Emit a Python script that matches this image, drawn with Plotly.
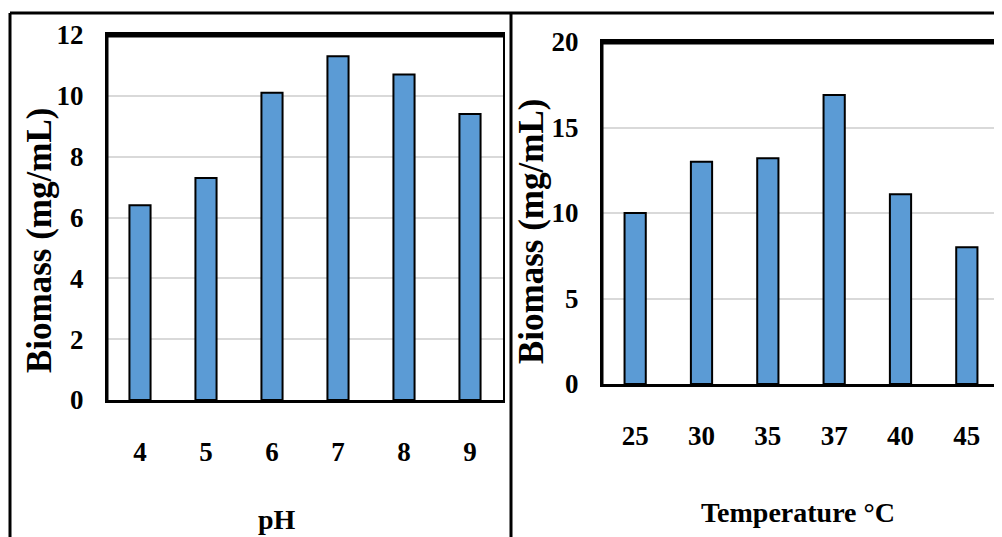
import plotly.graph_objects as go

# ---- data ----
ph_labels = ["4", "5", "6", "7", "8", "9"]
ph_biomass = [6.4, 7.3, 10.1, 11.3, 10.7, 9.4]
temp_labels = ["25", "30", "35", "37", "40", "45"]
temp_biomass = [10.0, 13.0, 13.2, 16.9, 11.1, 8.0]
ph_yticks = [0, 2, 4, 6, 8, 10, 12]
temp_yticks = [0, 5, 10, 15, 20]
y_title = "Biomass (mg/mL)"
x_title_left = "pH"
x_title_right = "Temperature °C"

W, H = 1002, 537
OX, OY = 8, 8  # page body margin compensation
FONT = "Liberation Serif, Times New Roman, serif"
BAR = "#5b9bd5"

def px(x):
    return (x - OX) / W

def py(y):
    return 1 - (y - OY) / H

fig = go.Figure()
fig.add_trace(go.Bar(x=ph_labels, y=ph_biomass, width=0.32,
                     marker=dict(color=BAR, line=dict(color="black", width=2)),
                     xaxis="x", yaxis="y", showlegend=False))
fig.add_trace(go.Bar(x=temp_labels, y=temp_biomass, width=0.32,
                     marker=dict(color=BAR, line=dict(color="black", width=2)),
                     xaxis="x2", yaxis="y2", showlegend=False))

tickfont = dict(family=FONT, size=27, color="black", weight="bold")

common_x = dict(type="category", showline=True, linecolor="black", linewidth=3,
                mirror=True, showgrid=False, ticks="", tickfont=tickfont,
                ticklabelstandoff=26, fixedrange=True, automargin=False)
common_y = dict(showline=True, linecolor="black", linewidth=2, mirror=True,
                showgrid=True, gridcolor="#d9d9d9", gridwidth=2, ticks="",
                tickfont=tickfont, zeroline=False, ticklabelstandoff=16,
                fixedrange=True, automargin=False)

fig.update_layout(
    width=W, height=H,
    margin=dict(l=0, r=0, t=0, b=0, pad=0, autoexpand=False),
    paper_bgcolor="white", plot_bgcolor="white",
    xaxis=dict(domain=[px(107), px(503)], anchor="y", **common_x),
    yaxis=dict(domain=[py(400), py(35)], anchor="x", range=[0, 12],
               tickvals=ph_yticks, **common_y),
    xaxis2=dict(domain=[px(602), px(1000)], anchor="y2", **common_x),
    yaxis2=dict(domain=[py(384), py(42)], anchor="x2", range=[0, 20],
                tickvals=temp_yticks, **common_y),
)

title_font = dict(family=FONT, size=28, color="black", weight="bold")
ytitle_font = dict(family=FONT, size=35, color="black", weight="bold")

ann = dict(xref="paper", yref="paper", showarrow=False,
           xanchor="center", yanchor="middle")
fig.add_annotation(text=y_title, textangle=-90, x=px(40), y=py(241),
                   font=ytitle_font, **ann)
fig.add_annotation(text=y_title, textangle=-90, x=px(531), y=py(232),
                   font=ytitle_font, **ann)
fig.add_annotation(text=x_title_left, x=px(277), y=py(519),
                   font=title_font, **ann)
fig.add_annotation(text=x_title_right, x=px(798), y=py(512),
                   font=title_font, **ann)

line = dict(color="black", width=3)
shapes = [
    # outer panel frames
    dict(type="line", xref="paper", yref="paper", x0=px(10), x1=1.0, y0=py(13), y1=py(13), line=line),
    dict(type="line", xref="paper", yref="paper", x0=px(10), x1=px(10), y0=py(13), y1=0, line=line),
    dict(type="line", xref="paper", yref="paper", x0=px(511), x1=px(511), y0=py(13), y1=0, line=line),
    # thick top borders of plot areas
    dict(type="line", xref="paper", yref="paper", x0=px(106), x1=px(504), y0=py(35), y1=py(35),
         line=dict(color="black", width=5)),
    dict(type="line", xref="paper", yref="paper", x0=px(601), x1=px(1001), y0=py(42), y1=py(42),
         line=dict(color="black", width=5)),
    # thicker left axes
    dict(type="line", xref="paper", yref="paper", x0=px(107), x1=px(107), y0=py(400), y1=py(35),
         line=dict(color="black", width=3)),
    dict(type="line", xref="paper", yref="paper", x0=px(602), x1=px(602), y0=py(384), y1=py(42),
         line=dict(color="black", width=3)),
]
fig.update_layout(shapes=shapes)

fig.write_html("out.html")
